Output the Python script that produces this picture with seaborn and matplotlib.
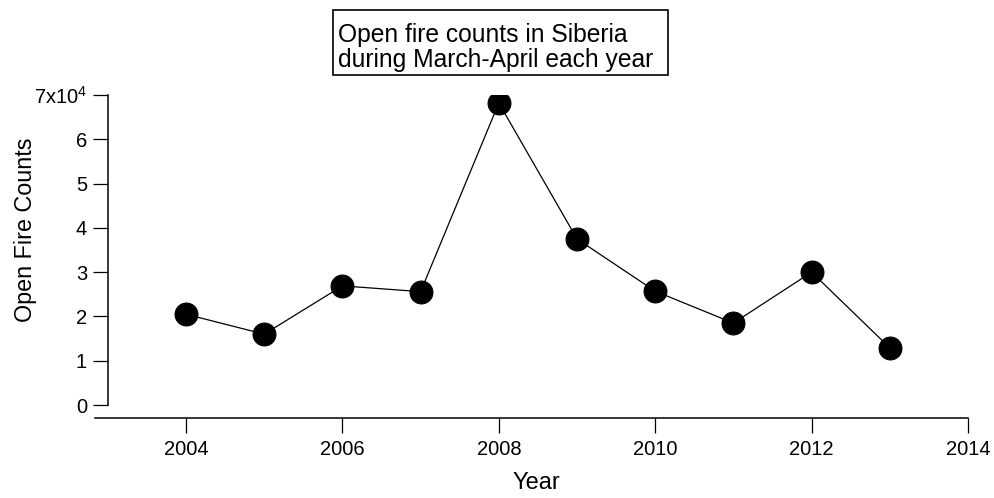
import pandas as pd
import seaborn as sns
import matplotlib.pyplot as plt
from matplotlib.patches import Rectangle

# data
years = [2004, 2005, 2006, 2007, 2008, 2009, 2010, 2011, 2012, 2013]
fire_counts = [20500, 16000, 26900, 25600, 68200, 37500, 25700, 18500, 30000, 12900]
ytick_vals = [0, 10000, 20000, 30000, 40000, 50000, 60000, 70000]
ytick_labels = ['0', '1', '2', '3', '4', '5', '6', '7x10$^{4}$']
xtick_vals = [2004, 2006, 2008, 2010, 2012, 2014]
title_lines = ['Open fire counts in Siberia', 'during March-April each year']

df = pd.DataFrame({'Year': years, 'Counts': fire_counts})

sns.set_style('ticks')
plt.rcParams['font.family'] = ['Liberation Sans', 'DejaVu Sans']
plt.rcParams['mathtext.default'] = 'regular'
plt.rcParams['text.color'] = 'black'
plt.rcParams['axes.labelcolor'] = 'black'
plt.rcParams['xtick.color'] = 'black'
plt.rcParams['ytick.color'] = 'black'

W, H = 994, 498
fig = plt.figure(figsize=(W / 100, H / 100), dpi=100)
ax = fig.add_axes([95 / W, 1 - 418 / H, (968 - 95) / W, (418 - 95) / H])

sns.lineplot(data=df, x='Year', y='Counts', color='black', linewidth=0.9,
             marker='o', markersize=16.5, markeredgecolor='black',
             markerfacecolor='black', ax=ax)

ax.set_xlim(2002.836, 2014)
ax.set_ylim(-2930, 70000)

ax.set_xticks(xtick_vals)
ax.set_xticklabels([str(v) for v in xtick_vals])
ax.set_yticks(ytick_vals, ytick_labels)

sns.despine(ax=ax)
ax.spines['left'].set_position(('data', 2003))
ax.spines['left'].set_bounds(0, 70000)
for s in ['left', 'bottom']:
    ax.spines[s].set_linewidth(1.1)
    ax.spines[s].set_color('black')

ax.tick_params(axis='both', direction='out', length=11, width=0.9,
               labelsize=14.5, color='black')
ax.tick_params(axis='x', pad=5)
ax.tick_params(axis='y', pad=4)

ax.set_xlabel('Year', fontsize=17, va='center')
ax.xaxis.set_label_coords(0.506, -0.201)
ax.set_ylabel('Open Fire Counts', fontsize=16.8, va='center')
ax.yaxis.set_label_coords(-0.080, 0.582)

# boxed title
fig.patches.append(Rectangle((333 / W, 1 - 75 / H), (668 - 333) / W, 65 / H,
                             transform=fig.transFigure, fill=True, fc='white',
                             ec='black', lw=1.2))
fig.text(338 / W, 1 - 42 / H, title_lines[0], ha='left', va='baseline', fontsize=17.7)
fig.text(338 / W, 1 - 67 / H, title_lines[1], ha='left', va='baseline', fontsize=17.7)

plt.savefig('out.png', dpi=100)
